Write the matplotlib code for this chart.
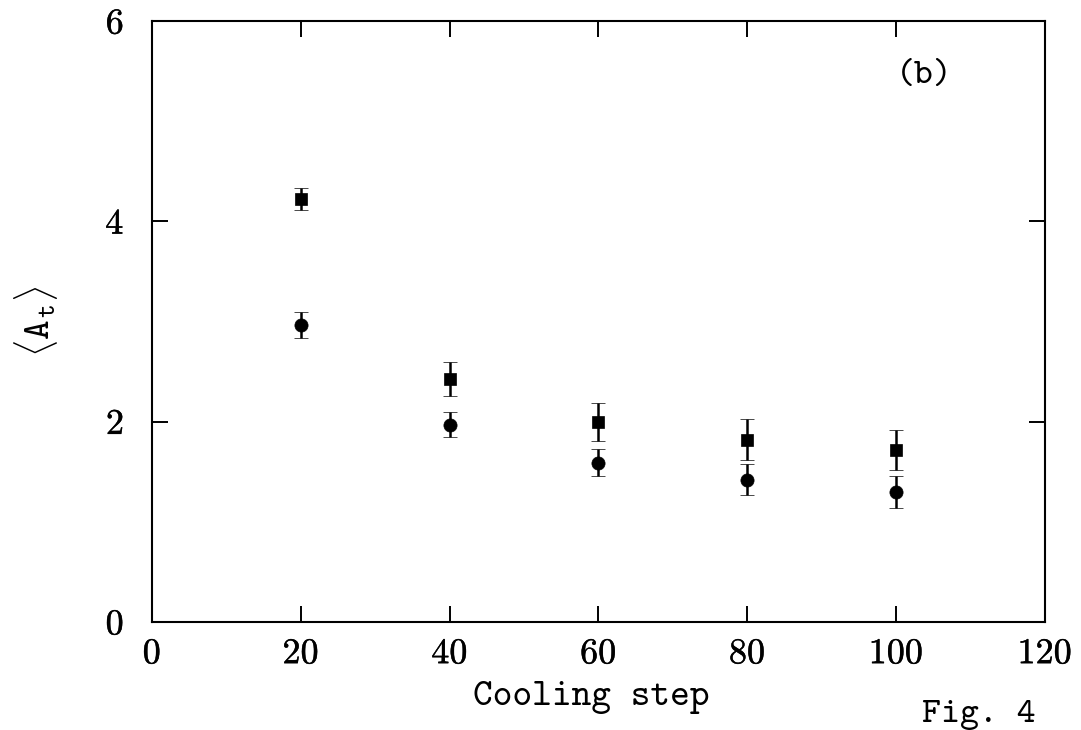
import matplotlib
matplotlib.use("Agg")
import matplotlib.pyplot as plt
import matplotlib.patheffects as pe

# cooling steps and <A_t> values
steps = [20, 40, 60, 80, 100]
squares = [4.22, 2.43, 2.00, 1.82, 1.72]
squares_err = [0.11, 0.17, 0.19, 0.205, 0.20]
circles = [2.97, 1.97, 1.59, 1.42, 1.30]
circles_err = [0.13, 0.125, 0.135, 0.155, 0.16]

xticks = [0, 20, 40, 60, 80, 100, 120]
yticks = [0, 2, 4, 6]

plt.rcParams['font.family'] = 'cmr10'
plt.rcParams['axes.formatter.use_mathtext'] = True
plt.rcParams['mathtext.fontset'] = 'cm'

# the tick numbers in the original are a little heavier than cmr10
heavy = [pe.withStroke(linewidth=0.3, foreground='black')]

fig = plt.figure(figsize=(10.81, 7.3), dpi=100)
ax = fig.add_axes((0.1406, 0.148, 0.826, 0.823))

ax.errorbar(steps, squares, yerr=squares_err, fmt='s', color='black',
            ms=9, mew=0.5, elinewidth=1.8, capsize=4.8, capthick=1.8)
ax.errorbar(steps, circles, yerr=circles_err, fmt='o', color='black',
            ms=9.5, mew=0.5, elinewidth=1.8, capsize=4.8, capthick=1.8)

ax.set_xlim(0, 120)
ax.set_ylim(0, 6)
ax.set_xticks(xticks)
ax.set_yticks(yticks)
ax.tick_params(direction='in', length=11.5, width=1.4, labelsize=26,
               top=True, right=True)
ax.tick_params(axis='x', pad=12)
ax.tick_params(axis='y', pad=20)
for sp in ax.spines.values():
    sp.set_linewidth(1.5)
for lab in ax.get_xticklabels() + ax.get_yticklabels():
    lab.set_path_effects(heavy)

ax.set_xlabel('Cooling step', family='cmtt10', fontsize=27, va='baseline')
ax.xaxis.set_label_coords(0.4916, -0.138)
ax.set_ylabel(r'$\langle\mathtt{A}_\mathtt{t}\rangle$', fontsize=27)
ax.yaxis.set_label_coords(-0.103, 0.5)

ax.text(0.8645, 0.9085, '(b)', transform=ax.transAxes, family='cmtt10',
        fontsize=26, ha='center', va='center')
fig.text(0.853, 0.011, 'Fig. 4', family='cmtt10', fontsize=26, va='baseline')

fig.savefig('out.png', dpi=100)
